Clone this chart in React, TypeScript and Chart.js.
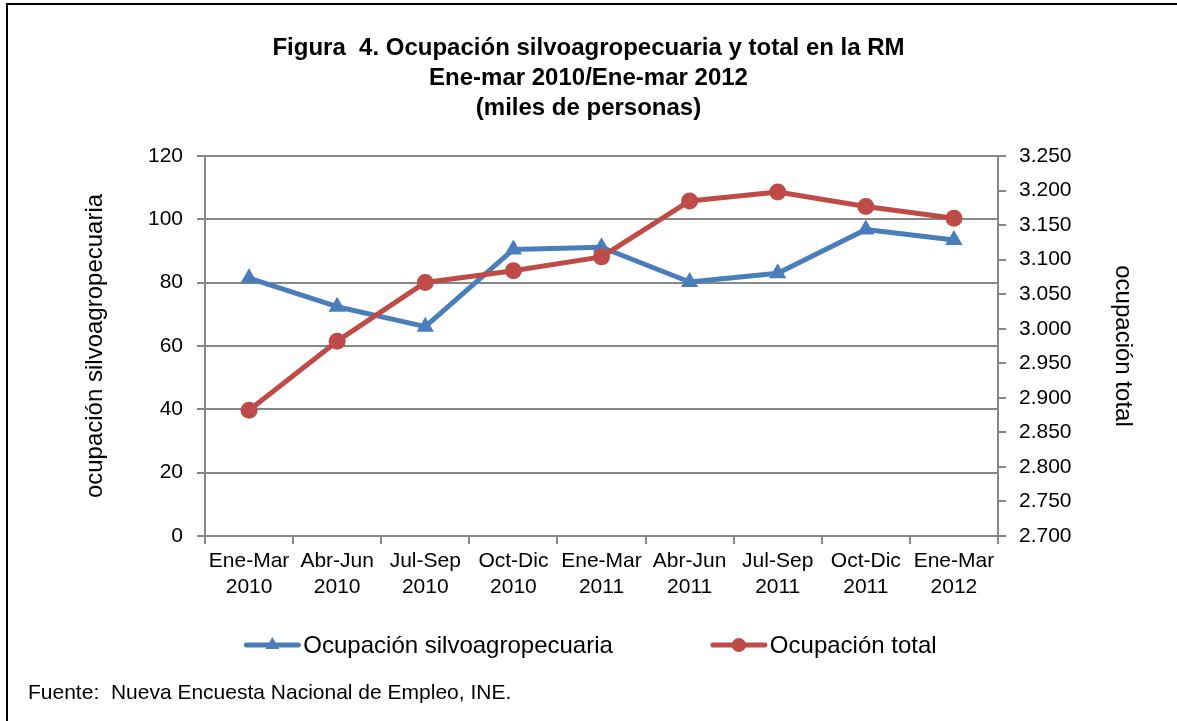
import React, { useEffect, useRef } from 'react';
import { Chart, registerables } from 'chart.js';

Chart.register(...registerables);

// ---- Data ----
const quarters = ['Ene-Mar', 'Abr-Jun', 'Jul-Sep', 'Oct-Dic', 'Ene-Mar', 'Abr-Jun', 'Jul-Sep', 'Oct-Dic', 'Ene-Mar'];
const years = ['2010', '2010', '2010', '2010', '2011', '2011', '2011', '2011', '2012'];
const silvoValues = [81.4, 72.4, 66.1, 90.5, 91.2, 80.2, 83.0, 96.8, 93.5];
const totalValues = [2882, 2982, 3067, 3084, 3104, 3185, 3198, 3177, 3160];
const leftTickValues = [0, 20, 40, 60, 80, 100, 120];
const rightTickValues = [2700, 2750, 2800, 2850, 2900, 2950, 3000, 3050, 3100, 3150, 3200, 3250];
const titleLines = [
  'Figura  4. Ocupación silvoagropecuaria y total en la RM',
  'Ene-mar 2010/Ene-mar 2012',
  '(miles de personas)',
];
const seriesNames = ['Ocupación silvoagropecuaria', 'Ocupación total'];
const leftAxisTitle = 'ocupación silvoagropecuaria';
const rightAxisTitle = 'ocupación total';
const footerText = 'Fuente:  Nueva Encuesta Nacional de Empleo, INE.';

// ---- Styles ----
const FONT = '"Liberation Sans", Arial, Helvetica, sans-serif';
const GRID = '#868686';
const BLUE = '#4A7EBB';
const RED = '#BE4B48';

const formatThousands = (v: number) => String(v).replace(/\B(?=(\d{3})+(?!\d))/g, '.');

const legendFooterPlugin = {
  id: 'legendFooter',
  afterDraw(chart: any) {
    const { ctx } = chart;
    ctx.save();
    ctx.font = `24px ${FONT}`;
    ctx.textBaseline = 'middle';
    ctx.textAlign = 'left';
    const lineLen = 56;
    const textGap = 3;
    const itemGap = 98;
    const items = chart.data.datasets.map((ds: any) => ({
      ds,
      w: lineLen + textGap + ctx.measureText(ds.label).width,
    }));
    const total = items.reduce((s: number, it: any) => s + it.w, 0) + itemGap * (items.length - 1);
    let x = chart.width / 2 - total / 2 + 2;
    const y = chart.chartArea.bottom + 109;
    items.forEach(({ ds, w }: any) => {
      const col = ds.borderColor;
      ctx.strokeStyle = col;
      ctx.lineWidth = 5;
      ctx.lineCap = 'round';
      ctx.beginPath();
      ctx.moveTo(x + 2, y);
      ctx.lineTo(x + lineLen - 2, y);
      ctx.stroke();
      ctx.fillStyle = col;
      const cx = x + lineLen / 2;
      ctx.beginPath();
      if (ds.pointStyle === 'triangle') {
        const r = 8;
        ctx.moveTo(cx, y - r);
        ctx.lineTo(cx + r * Math.cos(Math.PI / 6), y + r / 2);
        ctx.lineTo(cx - r * Math.cos(Math.PI / 6), y + r / 2);
        ctx.closePath();
      } else {
        ctx.arc(cx, y, 7, 0, Math.PI * 2);
      }
      ctx.fill();
      ctx.fillStyle = '#000';
      ctx.fillText(ds.label, x + lineLen + textGap, y + 1);
      x += w + itemGap;
    });
    ctx.font = `21px ${FONT}`;
    ctx.fillStyle = '#000';
    ctx.fillText(footerText, 28, chart.height - 28);
    ctx.restore();
  },
};

export default function App() {
  const canvasRef = useRef<HTMLCanvasElement | null>(null);

  useEffect(() => {
    if (!canvasRef.current) return;
    const labels = quarters.map((q, i) => [q, years[i]]);
    const chart = new Chart(canvasRef.current, {
      type: 'line',
      data: {
        labels,
        datasets: [
          {
            label: seriesNames[0],
            data: silvoValues,
            yAxisID: 'y',
            borderColor: BLUE,
            backgroundColor: BLUE,
            borderWidth: 5,
            borderJoinStyle: 'round',
            pointStyle: 'triangle',
            pointRadius: 10,
            pointBackgroundColor: BLUE,
            pointBorderColor: BLUE,
            pointBorderWidth: 0,
            tension: 0,
            order: 1,
          },
          {
            label: seriesNames[1],
            data: totalValues,
            yAxisID: 'y1',
            borderColor: RED,
            backgroundColor: RED,
            borderWidth: 5,
            borderJoinStyle: 'round',
            pointStyle: 'circle',
            pointRadius: 8.5,
            pointBackgroundColor: RED,
            pointBorderColor: RED,
            pointBorderWidth: 0,
            tension: 0,
            order: 0,
          },
        ],
      },
      options: {
        responsive: false,
        animation: false,
        devicePixelRatio: 1,
        layout: { padding: { left: 0, right: 0, top: 0, bottom: 115 } },
        plugins: {
          legend: { display: false },
          tooltip: { enabled: false },
          title: {
            display: true,
            text: titleLines,
            color: '#000',
            font: { family: FONT, size: 24, weight: 'bold', lineHeight: 1.25 },
            padding: { top: 33, bottom: 33 },
          },
        },
        scales: {
          x: {
            type: 'category',
            offset: true,
            grid: {
              offset: true,
              drawOnChartArea: false,
              drawTicks: true,
              tickLength: 8,
              color: GRID,
              lineWidth: 2,
            },
            border: { color: GRID, width: 2 },
            ticks: {
              color: '#000',
              font: { family: FONT, size: 21, lineHeight: 1.2 },
              padding: 5,
              maxRotation: 0,
              minRotation: 0,
              autoSkip: false,
            },
            afterFit: (s: any) => {
              s.height = 70;
            },
          },
          y: {
            position: 'left',
            min: 0,
            max: 120,
            afterBuildTicks: (s: any) => {
              s.ticks = leftTickValues.map((v) => ({ value: v }));
            },
            grid: { color: GRID, lineWidth: 2, tickLength: 8, drawTicks: true },
            border: { color: GRID, width: 2 },
            ticks: {
              color: '#000',
              font: { family: FONT, size: 21 },
              padding: 14,
            },
            title: {
              display: true,
              text: leftAxisTitle,
              color: '#000',
              font: { family: FONT, size: 24, lineHeight: 1.2 },
              padding: { top: 81, bottom: 0 },
            },
            afterFit: (s: any) => {
              s.width = 205;
            },
          },
          y1: {
            position: 'right',
            min: 2700,
            max: 3250,
            afterBuildTicks: (s: any) => {
              s.ticks = rightTickValues.map((v) => ({ value: v }));
            },
            grid: { drawOnChartArea: false, color: GRID, lineWidth: 2, tickLength: 8, drawTicks: true },
            border: { color: GRID, width: 2 },
            ticks: {
              color: '#000',
              font: { family: FONT, size: 21 },
              padding: 13,
              callback: (v: any) => formatThousands(Number(v)),
            },
            title: {
              display: true,
              text: rightAxisTitle,
              color: '#000',
              font: { family: FONT, size: 24, lineHeight: 1.2 },
              padding: { top: 40, bottom: 0 },
            },
            afterFit: (s: any) => {
              s.width = 179;
            },
          },
        },
      } as any,
      plugins: [legendFooterPlugin],
    });
    return () => chart.destroy();
  }, []);

  return (
    <div
      style={{
        position: 'absolute',
        left: 0,
        top: 0,
        width: 1177,
        height: 721,
        overflow: 'hidden',
        background: '#fff',
      }}
    >
      <div
        style={{
          position: 'absolute',
          left: 6,
          top: 3,
          width: 1300,
          height: 900,
          borderLeft: '2px solid #000',
          borderTop: '2px solid #000',
        }}
      />
      <canvas
        ref={canvasRef}
        width={1177}
        height={721}
        style={{ position: 'absolute', left: 0, top: 0, width: 1177, height: 721, display: 'block' }}
      />
    </div>
  );
}
